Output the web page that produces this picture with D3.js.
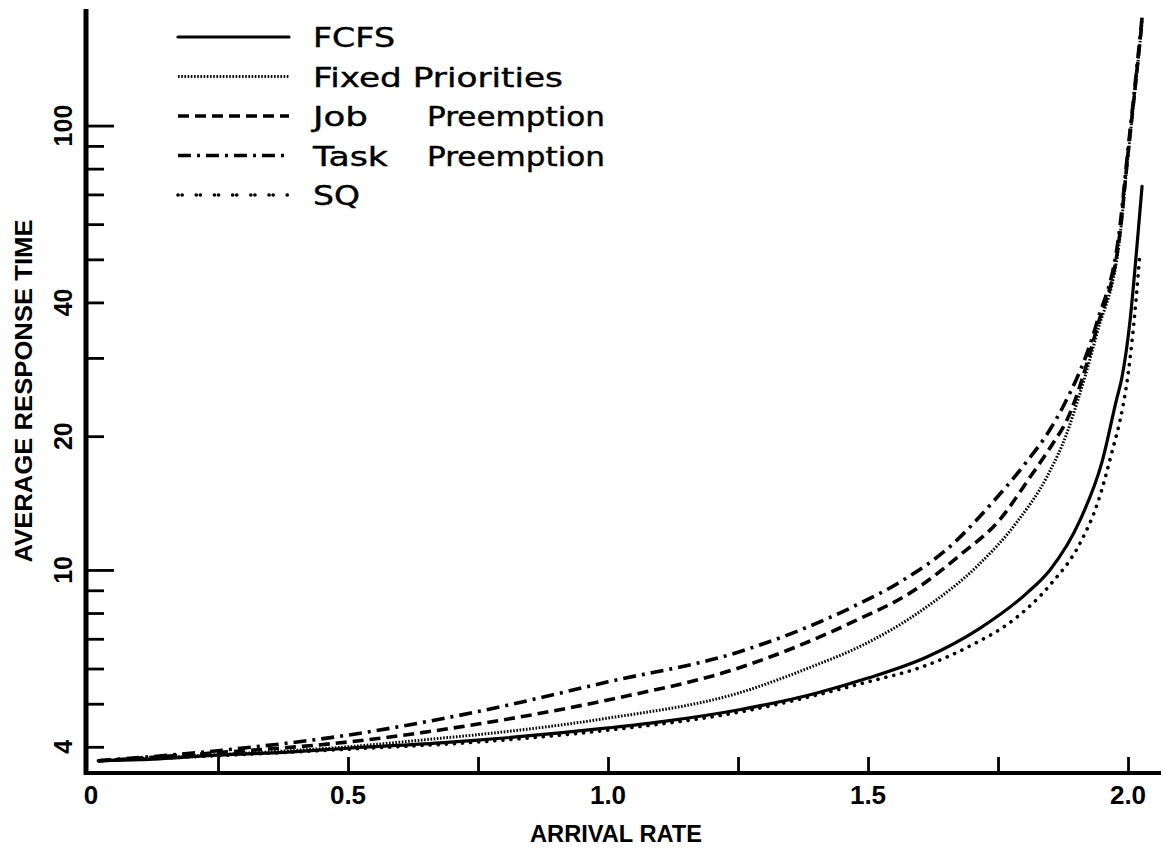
<!DOCTYPE html>
<html>
<head>
<meta charset="utf-8">
<script src="https://cdn.jsdelivr.net/npm/d3@7"></script>
<style>
  body { margin: 0; background: #fff; }
  svg { display: block; }
</style>
</head>
<body>
<div id="chart"></div>
<script>
const width = 1164;
const height = 855;

// series values (arrival rate, average response time)
const fcfsRate = [0.02, 0.1, 0.25, 0.4, 0.5, 0.677, 0.75, 1.0, 1.1, 1.25, 1.4, 1.5, 1.613, 1.715, 1.806, 1.85, 1.908, 1.95, 1.978, 1.988, 2.004, 2.015, 2.027];
const fcfsTime = [3.72, 3.74, 3.83, 3.90, 3.97, 4.08, 4.14, 4.41, 4.55, 4.84, 5.28, 5.71, 6.37, 7.39, 8.88, 10.0, 12.96, 17.5, 24.2, 27, 36.5, 50, 73];

const fixedRate = [0.02, 0.25, 0.5, 0.677, 0.75, 1.0, 1.25, 1.4, 1.478, 1.613, 1.71, 1.786, 1.844, 1.883, 1.904, 1.94, 1.985, 1.998, 2.015, 2.027];
const fixedTime = [3.72, 3.84, 4.0, 4.18, 4.26, 4.64, 5.28, 6.11, 6.67, 8.26, 10.2, 12.8, 16.2, 20.4, 24.2, 34, 57, 81, 125, 170];

const jobRate = [0.02, 0.25, 0.5, 0.75, 1.0, 1.25, 1.478, 1.581, 1.677, 1.754, 1.812, 1.856, 1.883, 1.94, 1.985, 1.998, 2.015, 2.027];
const jobTime = [3.72, 3.88, 4.10, 4.50, 5.10, 6.01, 7.71, 8.88, 10.8, 13.0, 16.2, 19.3, 21.8, 35, 58, 82, 126, 172];

const taskRate = [0.02, 0.25, 0.5, 0.75, 1.0, 1.25, 1.478, 1.562, 1.658, 1.735, 1.798, 1.85, 1.875, 1.94, 1.985, 1.998, 2.015, 2.027];
const taskTime = [3.72, 3.92, 4.25, 4.80, 5.60, 6.53, 8.34, 9.4, 11.3, 14.0, 17.1, 20.7, 23.3, 36, 60, 84, 128, 175];

const sqRate = [0.02, 0.25, 0.5, 0.75, 1.0, 1.25, 1.5, 1.604, 1.652, 1.7, 1.779, 1.85, 1.908, 1.942, 1.969, 1.99, 2.0, 2.008, 2.015, 2.023];
const sqTime = [3.72, 3.82, 3.95, 4.10, 4.36, 4.78, 5.60, 6.05, 6.37, 6.78, 7.71, 9.25, 11.5, 14.2, 18.4, 23.3, 27.5, 33, 40, 52];

const seriesNames = ["FCFS", "Fixed Priorities", "Job   Preemption", "Task   Preemption", "SQ"];

// tick labels
const xTickValues = [0.25, 0.5, 0.75, 1.0, 1.25, 1.5, 1.75, 2.0];
const xLabelValues = [0, 0.5, 1.0, 1.5, 2.0];
const yMinorTicks = [4, 5, 6, 7, 8, 9, 20, 30, 40, 50, 60, 70, 80, 90];
const yMajorTicks = [10, 100];
const yLabelValues = [4, 10, 20, 40, 100];

const series = [
  { name: seriesNames[0], rate: fcfsRate, time: fcfsTime, dash: null, w: 3.2, cap: "round", lw: [82] },
  { name: seriesNames[1], rate: fixedRate, time: fixedTime, dash: "1.6,1.6", w: 3, cap: "butt", lw: [250] },
  { name: seriesNames[2], rate: jobRate, time: jobTime, dash: "11,6", w: 3.6, cap: "butt", lw: [55, 178] },
  { name: seriesNames[3], rate: taskRate, time: taskTime, dash: "13,6,3,6", w: 3.6, cap: "butt", lw: [75, 178] },
  { name: seriesNames[4], rate: sqRate, time: sqTime, dash: "0.1,8", w: 3.6, cap: "round", lw: [47], legDash: "0.1,4,0.1,14" }
];

const x = d3.scaleLinear().domain([0, 2.0615]).range([88, 1160]);
const y = d3.scaleLog().domain([3.51, 182]).range([772, 10]);

const svg = d3.select("#chart")
  .append("svg")
  .attr("width", width)
  .attr("height", height);

const line = d3.line()
  .x(function(d) { return x(d[0]); })
  .y(function(d) { return y(d[1]); })
  .curve(d3.curveMonotoneX);

// x axis
const xAxis = svg.append("g")
  .attr("transform", "translate(0,773)")
  .call(d3.axisBottom(x).tickValues(xTickValues).tickSize(-16).tickFormat(""));
xAxis.select(".domain").remove();
xAxis.selectAll(".tick line").attr("stroke", "#000").attr("stroke-width", 2.6);
svg.append("line")
  .attr("x1", 84).attr("x2", 1161).attr("y1", 773).attr("y2", 773)
  .attr("stroke", "#000").attr("stroke-width", 4);

svg.selectAll(".xlab")
  .data(xLabelValues)
  .enter()
  .append("text")
  .attr("class", "xlab")
  .attr("x", function(d) { return x(d) + (d === 0 ? 3 : 0); })
  .attr("y", 804)
  .attr("text-anchor", "middle")
  .style("font-family", "Liberation Sans, Arial, sans-serif")
  .style("font-weight", "bold")
  .style("font-size", "26px")
  .text(function(d) { return d === 0 ? "0" : d.toFixed(1); });

// y axis
const yMinor = svg.append("g")
  .attr("transform", "translate(86,0)")
  .call(d3.axisLeft(y).tickValues(yMinorTicks).tickSize(-18).tickFormat(""));
yMinor.select(".domain").remove();
const yMajor = svg.append("g")
  .attr("transform", "translate(86,0)")
  .call(d3.axisLeft(y).tickValues(yMajorTicks).tickSize(-28).tickFormat(""));
yMajor.select(".domain").remove();
svg.selectAll(".tick line").attr("stroke", "#000").attr("stroke-width", 2.8);
svg.append("line")
  .attr("x1", 86).attr("x2", 86).attr("y1", 9).attr("y2", 775)
  .attr("stroke", "#000").attr("stroke-width", 5);

svg.selectAll(".ylab")
  .data(yLabelValues)
  .enter()
  .append("text")
  .attr("class", "ylab")
  .attr("transform", function(d) { return "translate(72," + y(d) + ") rotate(-90)"; })
  .attr("text-anchor", "middle")
  .style("font-family", "Liberation Sans, Arial, sans-serif")
  .style("font-weight", "bold")
  .style("font-size", "25px")
  .text(function(d) { return d; });

// axis titles
svg.append("text")
  .attr("transform", "translate(32,391) rotate(-90)")
  .attr("text-anchor", "middle")
  .attr("textLength", 343)
  .attr("lengthAdjust", "spacingAndGlyphs")
  .style("font-family", "Liberation Sans, Arial, sans-serif")
  .style("font-weight", "bold")
  .style("font-size", "24px")
  .text("AVERAGE RESPONSE TIME");

svg.append("text")
  .attr("x", 616)
  .attr("y", 842)
  .attr("text-anchor", "middle")
  .attr("textLength", 172)
  .attr("lengthAdjust", "spacingAndGlyphs")
  .style("font-family", "Liberation Sans, Arial, sans-serif")
  .style("font-weight", "bold")
  .style("font-size", "23px")
  .text("ARRIVAL RATE");

// curves
svg.selectAll(".curve")
  .data(series)
  .enter()
  .append("path")
  .attr("class", "curve")
  .attr("d", function(s) { return line(s.rate.map(function(r, i) { return [r, s.time[i]]; })); })
  .attr("fill", "none")
  .attr("stroke", "#000")
  .attr("stroke-width", function(s) { return s.w; })
  .attr("stroke-linecap", function(s) { return s.cap; })
  .attr("stroke-dasharray", function(s) { return s.dash; });

// legend
const legend = svg.selectAll(".legend")
  .data(series)
  .enter()
  .append("g")
  .attr("class", "legend")
  .attr("transform", function(d, i) { return "translate(0," + (37 + i * 39.5) + ")"; });

legend.append("line")
  .attr("x1", 178).attr("x2", 289)
  .attr("y1", 0).attr("y2", 0)
  .attr("stroke", "#000")
  .attr("stroke-width", function(s) { return s.w; })
  .attr("stroke-linecap", function(s) { return s.cap; })
  .attr("stroke-dasharray", function(s) { return s.legDash || s.dash; });

legend.append("text")
  .attr("x", 313)
  .attr("y", 10)
  .attr("textLength", function(s) { return s.lw[0]; })
  .attr("lengthAdjust", "spacingAndGlyphs")
  .style("font-family", "DejaVu Sans, sans-serif")
  .style("font-size", "26px")
  .style("stroke", "#000").style("stroke-width", 0.4)
  .text(function(s) { return s.name.split("   ")[0]; });

legend.filter(function(s) { return s.name.indexOf("   ") > 0; })
  .append("text")
  .attr("x", 427)
  .attr("y", 10)
  .attr("textLength", function(s) { return s.lw[1]; })
  .attr("lengthAdjust", "spacingAndGlyphs")
  .style("font-family", "DejaVu Sans, sans-serif")
  .style("font-size", "26px")
  .style("stroke", "#000").style("stroke-width", 0.4)
  .text(function(s) { return s.name.split("   ")[1]; });
</script>
</body>
</html>
